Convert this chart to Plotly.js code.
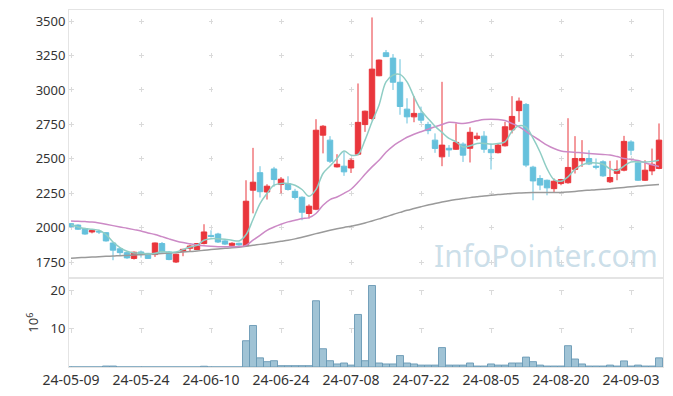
<!DOCTYPE html>
<html>
<head>
<meta charset="utf-8">
<script src="https://cdn.plot.ly/plotly-3.0.1.min.js"></script>
<style>html,body{margin:0;padding:0;background:#fff;}#chart{width:673px;height:396px;}</style>
</head>
<body>
<div id="chart"></div>
<script>
const dates = ['24-05-09','24-05-10','24-05-13','24-05-14','24-05-16','24-05-17','24-05-20','24-05-21','24-05-22','24-05-23',
'24-05-24','24-05-27','24-05-28','24-05-29','24-05-30','24-05-31','24-06-03','24-06-04','24-06-05','24-06-07',
'24-06-10','24-06-11','24-06-12','24-06-13','24-06-14','24-06-17','24-06-18','24-06-19','24-06-20','24-06-21',
'24-06-24','24-06-25','24-06-26','24-06-27','24-06-28','24-07-01','24-07-02','24-07-03','24-07-04','24-07-05',
'24-07-08','24-07-09','24-07-10','24-07-11','24-07-12','24-07-15','24-07-16','24-07-17','24-07-18','24-07-19',
'24-07-22','24-07-23','24-07-24','24-07-25','24-07-26','24-07-29','24-07-30','24-07-31','24-08-01','24-08-02',
'24-08-05','24-08-06','24-08-07','24-08-08','24-08-09','24-08-12','24-08-13','24-08-14','24-08-16','24-08-19',
'24-08-20','24-08-21','24-08-22','24-08-23','24-08-26','24-08-27','24-08-28','24-08-29','24-08-30','24-09-02',
'24-09-03','24-09-04','24-09-05','24-09-06','24-09-09'];

const openP = [2030,2020,1995,1970,1975,1965,1890,1848,1820,1778,
1825,1815,1806,1886,1825,1752,1830,1852,1843,1886,
1945,1955,1905,1873,1888,1870,2273,2400,2260,2427,
2314,2320,2265,2222,2104,2135,2672,2636,2442,2447,
2434,2534,2749,2793,3103,3270,3231,3056,2861,2805,
2830,2750,2636,2515,2577,2570,2607,2577,2648,2665,
2569,2545,2595,2711,2850,2895,2440,2358,2345,2284,
2321,2327,2424,2486,2503,2447,2479,2334,2395,2418,
2623,2471,2345,2413,2431];
const highP = [2035,2025,2000,1985,1985,1968,1895,1852,1825,1828,
1835,1818,1893,1897,1830,1812,1848,1878,1890,2026,
1982,1964,1915,1895,1892,2345,2580,2447,2316,2442,
2368,2374,2283,2228,2170,2788,2745,2665,2534,2551,
2504,3047,2850,3526,3220,3290,3260,3223,2940,2955,
2879,2769,2685,3059,2600,2758,2620,2729,2690,2701,
2612,2612,2769,2955,2945,2905,2450,2382,2350,2358,
2355,2795,2665,2636,2563,2503,2490,2486,2490,2667,
2635,2490,2490,2575,2757];
const lowP = [2000,1985,1950,1960,1955,1900,1765,1800,1775,1770,
1784,1775,1789,1820,1765,1745,1794,1832,1840,1880,
1930,1890,1875,1868,1870,1865,2105,2220,2205,2298,
2250,2270,2205,2055,2067,2128,2540,2470,2438,2377,
2398,2525,2696,2780,3100,3240,3000,2820,2757,2766,
2760,2679,2544,2447,2515,2565,2478,2474,2635,2544,
2423,2540,2590,2685,2769,2440,2200,2273,2236,2260,
2309,2320,2394,2442,2455,2424,2370,2325,2345,2410,
2527,2340,2340,2382,2425];
const closeP = [2010,1990,1955,1980,1970,1905,1838,1820,1782,1823,
1808,1778,1890,1825,1770,1808,1844,1868,1886,1970,
1937,1897,1882,1888,1876,2193,2331,2262,2302,2350,
2353,2278,2220,2113,2157,2708,2737,2483,2461,2406,
2490,2765,2846,3151,3217,3242,3056,2880,2805,2830,
2781,2705,2576,2600,2565,2620,2527,2693,2665,2570,
2545,2600,2733,2808,2919,2455,2340,2310,2290,2338,
2350,2438,2503,2503,2463,2440,2377,2365,2424,2627,
2563,2345,2418,2461,2636];

const ma5 = [2022,2006,1995,1990,1982,1951,1897,1857,1830,1818,
1818,1810,1815,1828,1822,1825,1842,1861,1873,1910,
1921,1921,1917,1910,1905,1950,2060,2176,2249,2309,
2321,2321,2309,2278,2229,2278,2394,2449,2503,2558,
2527,2532,2636,2769,2890,3059,3108,3113,3059,2950,
2854,2793,2737,2692,2648,2624,2587,2595,2612,2612,
2607,2612,2624,2700,2740,2731,2650,2550,2430,2350,
2338,2370,2425,2457,2470,2470,2461,2428,2415,2448,
2478,2478,2477,2482,2490];
const ma20 = [2050,2047,2045,2042,2035,2026,2016,2006,1997,1987,
1977,1963,1952,1936,1920,1905,1893,1884,1876,1870,
1866,1863,1862,1862,1864,1873,1910,1946,1982,2006,
2026,2043,2055,2067,2074,2104,2164,2205,2224,2250,
2280,2330,2388,2442,2490,2548,2593,2627,2657,2679,
2697,2715,2733,2750,2765,2762,2756,2764,2776,2786,
2788,2786,2778,2757,2733,2700,2665,2633,2600,2575,
2558,2551,2547,2544,2540,2536,2532,2528,2517,2503,
2496,2488,2472,2457,2445];
const ma60 = [1780,1783,1785,1788,1790,1793,1795,1798,1800,1803,
1805,1808,1811,1814,1817,1820,1824,1828,1832,1837,
1842,1847,1851,1855,1860,1866,1873,1880,1887,1894,
1902,1910,1920,1932,1945,1958,1970,1982,1993,2003,
2012,2022,2035,2050,2065,2080,2097,2112,2127,2140,
2153,2165,2177,2188,2197,2205,2212,2219,2225,2231,
2236,2241,2245,2249,2252,2255,2256,2256,2256,2256,
2257,2260,2264,2269,2273,2277,2280,2284,2288,2293,
2298,2303,2307,2311,2315];

// volume in millions of shares
const volume = [0.03,0.03,0.03,0.03,0.03,0.25,0.25,0.03,0.03,0.03,
0.03,0.03,0.03,0.03,0.03,0.03,0.03,0.03,0.03,0.2,
0.03,0.03,0.03,0.03,0.03,6.9,10.9,2.4,1.4,1.65,
0.35,0.35,0.35,0.35,0.35,17.4,4.8,1.65,0.8,1.05,
0.5,13.8,1.65,21.4,1.05,0.8,0.8,3.0,1.05,0.8,
0.5,0.5,0.5,5.1,0.5,0.5,0.5,1.05,0.25,0.25,
0.8,0.5,0.5,1.05,1.05,2.6,1.4,0.5,0.25,0.25,
0.25,5.6,2.1,0.8,0.25,0.25,0.25,0.5,0.25,1.6,
0.25,0.5,0.25,0.25,2.4];

const tickDates = ['24-05-09','24-05-24','24-06-10','24-06-24','24-07-08','24-07-22','24-08-05','24-08-20','24-09-03'];
const priceTicks = [1750,2000,2250,2500,2750,3000,3250,3500];
const volTicks = [10,20];

const RED = '#e9363c', BLUE = '#66c1dc';
const tickFont = {family:'Noto Sans, sans-serif', size:13, color:'#333'};
const xTickFont = {family:'Noto Sans, sans-serif', size:14, color:'#333'};
const gridC = '#dadada', lineC = '#e4e4e4';

const traces = [
  {type:'candlestick', x:dates, open:openP, high:highP, low:lowP, close:closeP,
   xaxis:'x', yaxis:'y', hoverinfo:'skip',
   increasing:{line:{color:RED,width:1}, fillcolor:RED},
   decreasing:{line:{color:BLUE,width:1}, fillcolor:BLUE}},
  {type:'scatter', mode:'lines', x:dates, y:ma60, xaxis:'x', yaxis:'y',
   line:{color:'#9a9a9a', width:1.5, shape:'spline'}, hoverinfo:'skip'},
  {type:'scatter', mode:'lines', x:dates, y:ma20, xaxis:'x', yaxis:'y',
   line:{color:'#cc8ac6', width:1.5, shape:'spline'}, hoverinfo:'skip'},
  {type:'scatter', mode:'lines', x:dates, y:ma5, xaxis:'x', yaxis:'y',
   line:{color:'#8fcdc4', width:1.5, shape:'spline'}, hoverinfo:'skip'},
  {type:'bar', x:dates, y:volume, xaxis:'x2', yaxis:'y2', hoverinfo:'skip',
   marker:{color:'rgba(143,185,206,0.85)', line:{color:'rgba(105,153,181,0.9)', width:1}}}
];

const layout = {
  width:673, height:396,
  margin:{l:69, r:10, t:10, b:29},
  paper_bgcolor:'#fff', plot_bgcolor:'#fff',
  showlegend:false, hovermode:false, bargap:0, boxgap:0.12, boxgroupgap:0.12,
  xaxis:{type:'category', domain:[0,1], anchor:'y', range:[-0.286,84.57],
    rangeslider:{visible:false}, showticklabels:false, ticks:'',
    tickvals:tickDates, showgrid:true, gridcolor:gridC, gridwidth:1,
    griddash:'0px,8.5px,5px,20.97px',
    showline:true, mirror:true, linecolor:lineC, linewidth:1, zeroline:false},
  yaxis:{domain:[0.2485,1], anchor:'x', range:[1634,3580], tickvals:priceTicks,
    ticks:'', tickfont:tickFont, showgrid:true, gridcolor:gridC, gridwidth:1,
    griddash:'4.5px,65.5px', showline:true, mirror:true, linecolor:lineC, linewidth:1, zeroline:false},
  xaxis2:{type:'category', domain:[0,1], anchor:'y2', matches:'x', range:[-0.286,84.57],
    tickvals:tickDates, ticks:'', tickfont:xTickFont, showgrid:true, gridcolor:gridC, gridwidth:1,
    griddash:'0px,11.5px,5px,21.5px',
    showline:true, mirror:true, linecolor:lineC, linewidth:1, zeroline:false},
  yaxis2:{domain:[0,0.2485], anchor:'x2', range:[0,23.3], tickvals:volTicks,
    ticks:'', tickfont:tickFont, showgrid:true, gridcolor:gridC, gridwidth:1,
    griddash:'4.5px,65.5px', showline:true, mirror:true, linecolor:lineC, linewidth:1, zeroline:false,
    title:{text:'10<sup>6</sup>', font:{family:'Noto Sans, sans-serif', size:13, color:'#333'}, standoff:8}},
  annotations:[{text:'InfoPointer.com', xref:'paper', yref:'paper', x:0.803, y:0.311,
    xanchor:'center', yanchor:'middle', showarrow:false,
    font:{family:'Noto Sans, sans-serif', size:30, color:'rgba(160,195,215,0.55)'}}]
};

Plotly.newPlot('chart', traces, layout, {displayModeBar:false, staticPlot:true});
</script>
</body>
</html>
